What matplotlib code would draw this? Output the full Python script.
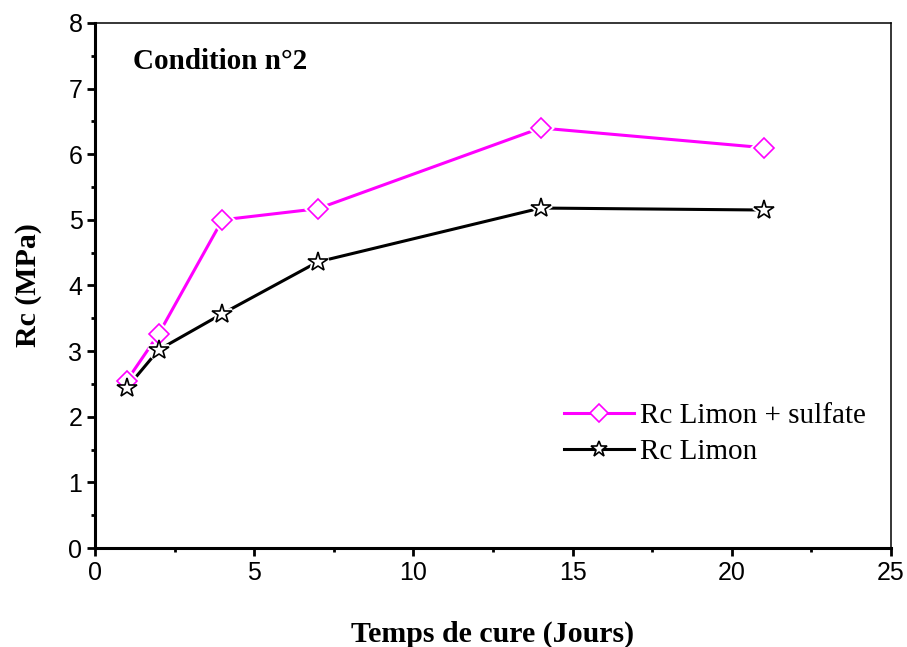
import numpy as np
import matplotlib.pyplot as plt

days = [1, 2, 4, 7, 14, 21]
rc_sulfate = [2.55, 3.26, 5.00, 5.17, 6.40, 6.10]
rc_limon = [2.44, 3.02, 3.57, 4.36, 5.18, 5.15]
labels = ['Rc Limon + sulfate', 'Rc Limon']

fig = plt.figure(figsize=(9.07, 6.47), dpi=100)
ax = fig.add_axes([0.1047, 0.153, 0.8777, 0.8115])

# white halo under markers gives the small gap between line and marker
for y, c, m, ms in [(rc_sulfate, '#ff00ff', 'D', 10), (rc_limon, 'black', '*', 15)]:
    ax.plot(days, y, color=c, lw=2.2, zorder=2)
    ax.plot(days, y, ls='none', marker=m, ms=ms, mfc='white', mec='white',
            mew=4, zorder=3)
ax.plot(days, rc_sulfate, ls='none', marker='D', ms=10,
        mfc='white', mec='#ff00ff', mew=1.2, zorder=4)
ax.plot(days, rc_limon, ls='none', marker='*', ms=15,
        mfc='white', mec='black', mew=1.2, zorder=4)
h1, = ax.plot([], [], color='#ff00ff', lw=2.2, marker='D', ms=9, mfc='white', mec='#ff00ff', mew=1.2)
h2, = ax.plot([], [], color='black', lw=2.2, marker='*', ms=12, mfc='white', mec='black', mew=1.2)

ax.set_xlim(0, 25)
ax.set_ylim(0, 8)
ax.set_xticks(np.arange(0, 26, 5))
ax.set_xticks(np.arange(0, 26, 2.5), minor=True)
ax.set_yticks(np.arange(0, 9, 1))
ax.set_yticks(np.arange(0, 8.1, 0.5), minor=True)
ax.tick_params(which='major', direction='out', length=6, width=2, labelsize=18, pad=3)
ax.tick_params(which='minor', direction='out', length=3, width=2)
for lab in ax.get_xticklabels() + ax.get_yticklabels():
    lab.set_family('Liberation Sans')
ax.spines['left'].set_linewidth(2.2)
ax.spines['bottom'].set_linewidth(2.2)
ax.spines['top'].set_linewidth(1.1)
ax.spines['right'].set_linewidth(1.1)

ax.set_xlabel('Temps de cure (Jours)', family='Liberation Serif', weight='bold',
              fontsize=21.5, labelpad=26)
ax.set_ylabel('Rc (MPa)', family='Liberation Serif', weight='bold',
              fontsize=21.5, labelpad=19)
ax.text(1.2, 7.3, 'Condition n°2', family='Liberation Serif', weight='bold',
        fontsize=21)

ax.legend([h1, h2], labels, loc='upper left', bbox_to_anchor=(0.556, 0.327),
          frameon=False, prop={'family': 'Liberation Serif', 'size': 21},
          handlelength=2.4, handletextpad=0.2, labelspacing=0.32)

fig.savefig('out.png', dpi=100)
